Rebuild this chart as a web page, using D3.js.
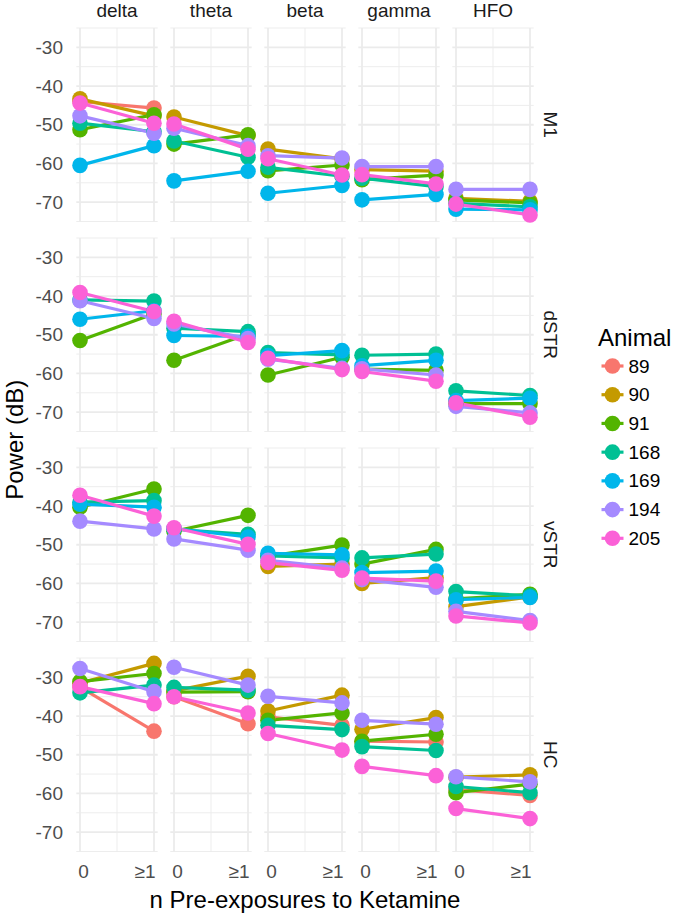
<!DOCTYPE html>
<html><head><meta charset="utf-8">
<script src="https://cdn.jsdelivr.net/npm/d3@7"></script>
<style>body{margin:0;background:#fff}svg{display:block;font-family:"Liberation Sans",Arial,Helvetica,sans-serif}</style>
</head><body><svg id="c" width="673" height="914"></svg>
<script>
const bands = ["delta","theta","beta","gamma","HFO"];
const regions = ["M1","dSTR","vSTR","HC"];
const animals = ["89","90","91","168","169","194","205"];
const colors = ["#F8766D","#C49A00","#53B400","#00C094","#00B6EB","#A58AFF","#FB61D7"];
const xTickLabels = ["0","≥1"];
const yTicks = [-70,-60,-50,-40,-30];
// each row: animal; columns: delta0, delta≥1, theta0, theta≥1, beta0, beta≥1, gamma0, gamma≥1, HFO0, HFO≥1
const M1 = [
  [-44.0,-45.7, null,null, null,null, null,null, null,null],
  [-43.3,-47.7, -48.0,-52.8, -56.3,-58.8, -61.6,-62.0, -69.0,-69.8],
  [-51.3,-47.4, -55.0,-52.6, -61.9,-60.4, -64.2,-63.0, -69.4,-70.2],
  [-49.6,-51.8, -54.2,-58.4, -61.0,-63.3, -63.8,-66.0, -70.3,-71.2],
  [-60.5,-55.4, -64.5,-62.0, -67.7,-65.7, -69.4,-68.0, -71.8,-72.0],
  [-47.7,-52.2, -50.9,-55.4, -58.0,-58.6, -60.8,-60.8, -66.7,-66.7],
  [-44.4,-49.6, -49.8,-56.3, -58.8,-63.0, -62.9,-65.3, -70.5,-73.3]
];
const dSTR = [
  [null,null, null,null, null,null, null,null, null,null],
  [null,null, null,null, null,null, null,null, null,null],
  [-51.5,-44.6, -56.6,-49.8, -60.4,-55.8, -58.9,-59.2, -67.8,-67.8],
  [-41.0,-41.3, -48.3,-49.2, -54.6,-55.2, -55.3,-55.0, -64.5,-65.7],
  [-46.0,-43.8, -50.2,-50.4, -55.4,-54.1, -58.0,-56.6, -67.0,-66.4],
  [-41.2,-45.8, -47.2,-51.0, -56.3,-58.7, -58.8,-60.4, -68.5,-70.2],
  [-39.1,-44.0, -46.5,-52.0, -56.1,-59.0, -59.5,-62.0, -67.6,-71.3]
];
const vSTR = [
  [null,null, null,null, null,null, null,null, null,null],
  [null,null, null,null, -55.6,-55.0, -60.0,-58.5, -66.0,-63.5],
  [-40.3,-35.6, -46.5,-42.4, -53.0,-50.1, -55.0,-51.2, -64.0,-62.8],
  [-39.0,-38.6, -46.0,-47.3, -52.9,-53.4, -53.4,-52.4, -62.1,-63.2],
  [-39.5,-40.3, -45.8,-48.0, -52.2,-52.6, -57.2,-56.8, -64.2,-63.6],
  [-43.9,-45.9, -48.5,-51.4, -54.0,-56.0, -59.0,-61.0, -67.2,-69.6],
  [-37.2,-42.6, -45.6,-49.9, -54.6,-56.6, -58.6,-59.4, -68.4,-70.2]
];
const HC = [
  [-32.5,-43.9, -35.0,-42.0, -40.2,-42.4, -46.5,-46.7, -59.0,-60.5],
  [-31.5,-26.4, -33.5,-29.7, -38.7,-34.6, -43.4,-40.4, -55.8,-55.2],
  [-31.1,-29.0, -33.8,-33.7, -41.1,-39.2, -46.5,-44.7, -59.8,-57.6],
  [-34.0,-32.0, -32.6,-33.3, -42.4,-43.5, -47.9,-48.9, -58.2,-59.8],
  [null,null, null,null, null,null, null,null, null,null],
  [-27.7,-33.7, -27.4,-32.0, -34.9,-36.6, -41.1,-42.1, -55.7,-57.0],
  [-32.4,-36.8, -35.0,-39.2, -44.5,-48.8, -53.0,-55.4, -63.9,-66.5]
];
const regionData = [M1, dSTR, vSTR, HC];

const svg = d3.select("#c");
const gridCol = "#ebebeb";
const smallFont = 19, bigFont = 24;
const panelW = 81.4, panelH = 193.5, colStep = 94, rowStep = 210, left0 = 76.3, top0 = 28;

const colX = bands.map((b,i) => d3.scaleLinear().domain([-0.05,1.05]).range([left0 + i*colStep, left0 + i*colStep + panelW]));
const rowY = regions.map((r,j) => d3.scaleLinear().domain([-75,-25]).range([top0 + j*rowStep + panelH, top0 + j*rowStep]));

const majorY = yTicks, minorY = [-75,-65,-55,-45,-35,-25];
const majorX = [0,1], minorX = [0.5];

regions.forEach((reg, j) => {
  const y = rowY[j];
  bands.forEach((band, i) => {
    const x = colX[i];
    const g = svg.append("g");
    const [x0, x1] = x.range();
    const [y1, y0] = y.range();
    g.selectAll(".mny").data(minorY).join("line")
      .attr("x1", x0).attr("x2", x1).attr("y1", d => y(d)).attr("y2", d => y(d))
      .attr("stroke", gridCol).attr("stroke-width", 0.9);
    g.selectAll(".mnx").data(minorX).join("line")
      .attr("y1", y0).attr("y2", y1).attr("x1", d => x(d)).attr("x2", d => x(d))
      .attr("stroke", gridCol).attr("stroke-width", 0.9);
    g.selectAll(".mjy").data(majorY).join("line")
      .attr("x1", x0).attr("x2", x1).attr("y1", d => y(d)).attr("y2", d => y(d))
      .attr("stroke", gridCol).attr("stroke-width", 1.8);
    g.selectAll(".mjx").data(majorX).join("line")
      .attr("y1", y0).attr("y2", y1).attr("x1", d => x(d)).attr("x2", d => x(d))
      .attr("stroke", gridCol).attr("stroke-width", 1.8);

    const data = regionData[j];
    const series = animals.map((a, k) => ({a, k, pts: [0,1].map(t => ({t, v: data[k][i*2 + t]})).filter(p => p.v !== null)}));
    const line = d3.line().x(p => x(p.t)).y(p => y(p.v));
    series.forEach(s => {
      if (s.pts.length > 1) g.append("path").attr("d", line(s.pts)).attr("fill","none")
        .attr("stroke", colors[s.k]).attr("stroke-width", 3.2);
    });
    series.forEach(s => {
      g.selectAll(null).data(s.pts).join("circle")
        .attr("cx", p => x(p.t)).attr("cy", p => y(p.v)).attr("r", 7.8).attr("fill", colors[s.k]);
    });

    if (j === 0) {
      svg.append("text").attr("x", (x0 + x1)/2).attr("y", 17).attr("text-anchor","middle")
        .attr("font-size", smallFont).attr("fill","#1a1a1a").text(band);
    }
    if (j === regions.length - 1) {
      xTickLabels.forEach((lab, t) => {
        svg.append("text").attr("x", t === 0 ? x(t) + 3.5 : x(t) + 1.5).attr("y", 871)
          .attr("text-anchor", t === 0 ? "middle" : "end").attr("dominant-baseline","central")
          .attr("font-size", smallFont).attr("fill","#4d4d4d").text(lab);
      });
    }
    if (i === 0) {
      svg.selectAll(null).data(yTicks).join("text")
        .attr("x", 63).attr("y", d => y(d)).attr("text-anchor","end").attr("dominant-baseline","central")
        .attr("font-size", smallFont).attr("fill","#4d4d4d").text(d => d);
    }
  });
  const [yb, yt] = rowY[j].range();
  svg.append("text").attr("transform", `translate(550,${(yb+yt)/2}) rotate(90)`)
    .attr("text-anchor","middle").attr("dominant-baseline","central")
    .attr("font-size", smallFont).attr("fill","#1a1a1a").text(reg);
});

// axis titles
svg.append("text").attr("transform", `translate(14,${(top0 + 3*rowStep + panelH + top0)/2}) rotate(-90)`)
  .attr("text-anchor","middle").attr("dominant-baseline","central").attr("font-size", bigFont).attr("fill","#000").text("Power (dB)");
svg.append("text").attr("x", (colX[0].range()[0] + colX[4].range()[1])/2).attr("y", 899)
  .attr("text-anchor","middle").attr("dominant-baseline","central").attr("font-size", bigFont).attr("fill","#000").text("n Pre-exposures to Ketamine");

// legend
const lg = svg.append("g");
lg.append("text").attr("x", 598).attr("y", 337).attr("dominant-baseline","central")
  .attr("font-size", bigFont).attr("fill","#000").text("Animal");
const ly = d3.scalePoint().domain(animals).range([366, 538.3]);
animals.forEach((a, k) => {
  lg.append("line").attr("x1", 601.5).attr("x2", 623.5).attr("y1", ly(a)).attr("y2", ly(a))
    .attr("stroke", colors[k]).attr("stroke-width", 3.2);
  lg.append("circle").attr("cx", 612.5).attr("cy", ly(a)).attr("r", 7.8).attr("fill", colors[k]);
  lg.append("text").attr("x", 628.5).attr("y", ly(a)).attr("dominant-baseline","central")
    .attr("font-size", smallFont).attr("fill","#000").text(a);
});
</script></body></html>
